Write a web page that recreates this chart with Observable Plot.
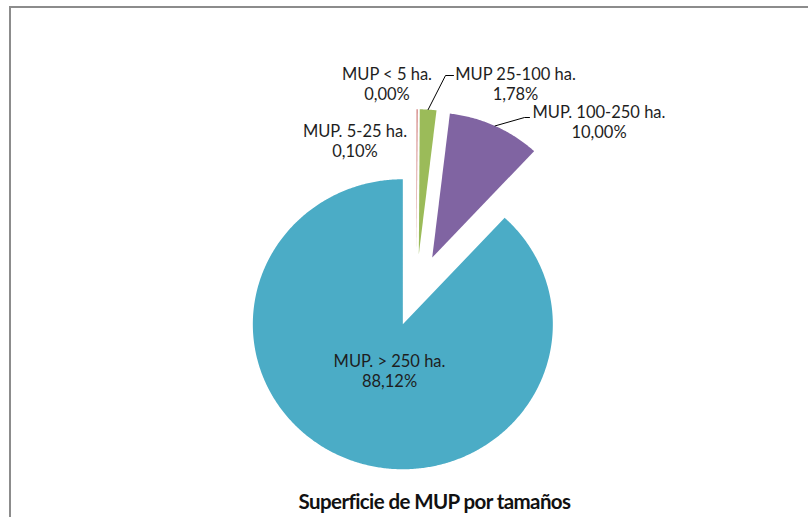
<!DOCTYPE html>
<html><head><meta charset="utf-8">
<script src="https://cdn.jsdelivr.net/npm/d3@7"></script>
<script src="https://cdn.jsdelivr.net/npm/@observablehq/plot@0.6"></script>
<style>
html,body{margin:0;padding:0;background:#fff;overflow:hidden}
#wrap{position:relative;width:808px;height:517px;overflow:hidden}
#frame{position:absolute;left:9px;top:6px;width:830px;height:540px;border-left:2px solid #8c8c8c;border-top:2px solid #8c8c8c;box-sizing:border-box;pointer-events:none}
#chart{position:absolute;left:0;top:0}
</style></head><body>
<div id="wrap"><div id="chart"></div><div id="frame"></div></div>
<script>
// ---- data ----
const categories = ["MUP < 5 ha.", "MUP. 5-25 ha.", "MUP 25-100 ha.", "MUP. 100-250 ha.", "MUP. > 250 ha."];
const shares = [0.00, 0.10, 1.78, 10.00, 88.12];
const colors = ["#4F81BD", "#C0504D", "#9BBB59", "#8064A2", "#4BACC6"];
const title = "Superficie de MUP por tamaños";

// ---- layout (pixels) ----
const center = [416, 290];
const radiusX = 150, radiusY = 145;
const explode = 0.25; // fraction of radius
const labelOffsets = [[-29.5, -207], [-61.5, -150], [99, -207], [182.5, -169], [-27, 80]];
const leaderBends = {2: [[29, -215], [37, -215]], 3: [[108, -173], [113, -173]]};
const titlePos = [434, 502];

const rows = categories.map((c, i) => ({cat: c, share: shares[i]}));
const arcs = d3.pie().sort(null).value(d => d.share)(rows);

const polys = [];
const labels = [];
const leaders = [];
arcs.forEach((s, i) => {
  const cat = s.data.cat;
  const m = (s.startAngle + s.endAngle) / 2;
  const ax = center[0] + explode * radiusX * Math.sin(m);
  const ay = center[1] - explode * radiusY * Math.cos(m);
  if (s.endAngle > s.startAngle) {
    polys.push({cat, x: ax, y: ay});
    const n = Math.max(2, Math.ceil((s.endAngle - s.startAngle) / (Math.PI / 360)));
    for (let k = 0; k <= n; k++) {
      const a = s.startAngle + (s.endAngle - s.startAngle) * k / n;
      polys.push({cat, x: ax + radiusX * Math.sin(a), y: ay - radiusY * Math.cos(a)});
    }
  }
  const pct = s.data.share.toFixed(2).replace(".", ",") + "%";
  labels.push({cat, text: cat + "\n" + pct, x: center[0] + labelOffsets[i][0], y: center[1] + labelOffsets[i][1]});
  if (leaderBends[i]) {
    leaders.push({cat, x: ax + radiusX * Math.sin(m), y: ay - radiusY * Math.cos(m)});
    leaderBends[i].forEach(p => leaders.push({cat, x: center[0] + p[0], y: center[1] + p[1]}));
  }
});

const chart = Plot.plot({
  width: 808,
  height: 517,
  margin: 0,
  style: {fontFamily: "Lato, 'Open Sans', sans-serif", background: "transparent"},
  x: {type: "identity", axis: null},
  y: {type: "identity", axis: null},
  color: {domain: categories, range: colors},
  marks: [
    Plot.line(polys, {x: "x", y: "y", z: "cat", fill: "cat", stroke: "none", curve: "linear-closed"}),
    Plot.line(leaders, {x: "x", y: "y", z: "cat", stroke: "#000", strokeWidth: 1}),
    Plot.text(labels, {x: "x", y: "y", text: "text", fontSize: 16.5, lineHeight: 1.22, fill: "#1e1e1e"}),
    Plot.text([{t: title, x: titlePos[0], y: titlePos[1]}], {x: "x", y: "y", text: "t", fontSize: 20.5, fontWeight: "bold", fill: "#111"})
  ]
});
d3.select(chart).selectAll("text").filter(function() { return this.textContent === title; }).attr("letter-spacing", "-0.6");
document.getElementById("chart").appendChild(chart);
</script>
</body></html>
